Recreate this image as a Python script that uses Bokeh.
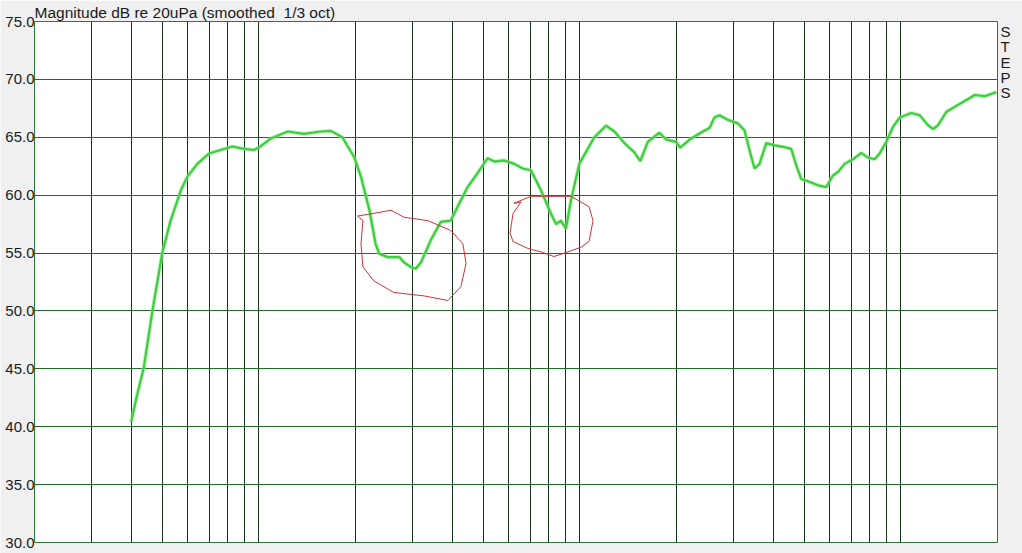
from bokeh.plotting import figure
from bokeh.models import (FixedTicker, PrintfTickFormatter, Range1d, LinearAxis,
                          CustomJSTickFormatter)
from bokeh.embed import file_html
from bokeh.resources import INLINE

# ---- data -------------------------------------------------------------
freq_hz = [40, 41.8, 43.8, 46.6, 50.0, 53.1, 57.1, 59.9, 64.3, 69.9, 76.0, 82.7,
           89.9, 96.6, 101, 109, 123, 138, 156, 167.5, 182, 198, 208, 221, 231,
           237, 252, 274, 283, 297, 308, 320, 343, 369, 396, 416, 447, 480, 516,
           541, 581, 625, 664, 704, 757, 813, 843, 873, 905, 938, 996, 1109,
           1206, 1281, 1376, 1478, 1544, 1628, 1769, 1857, 1994, 2052, 2222,
           2416, 2533, 2626, 2722, 2891, 3106, 3257, 3376, 3500, 3628, 3807,
           4040, 4341, 4555, 4720, 4893, 5133, 5517, 5855, 6146, 6368, 6678,
           7093, 7526, 7898, 8283, 8586, 9008, 9452, 9910, 10779, 11440, 12152,
           12600, 13058, 13860, 15076, 16193, 16980, 18250, 19844]
mag_db = [40.4, 42.8, 45.1, 50.0, 55.0, 57.8, 60.4, 61.6, 62.7, 63.6, 63.9, 64.2,
          64.0, 63.9, 64.2, 64.9, 65.5, 65.3, 65.5, 65.55, 65.0, 63.3, 61.6, 58.7,
          55.8, 54.95, 54.65, 54.65, 54.2, 53.8, 53.65, 54.2, 56.1, 57.7, 57.8,
          59.0, 60.7, 61.9, 63.2, 62.9, 63.0, 62.7, 62.3, 62.15, 60.4, 58.4, 57.5,
          57.8, 57.1, 59.55, 62.7, 65.0, 66.0, 65.5, 64.5, 63.7, 62.95, 64.6,
          65.4, 64.8, 64.6, 64.1, 64.9, 65.5, 65.8, 66.7, 66.9, 66.5, 66.2, 65.6,
          63.9, 62.3, 62.7, 64.5, 64.3, 64.15, 64.0, 62.6, 61.4, 61.2, 60.85,
          60.7, 61.7, 62.0, 62.7, 63.1, 63.65, 63.25, 63.1, 63.6, 64.6, 65.9,
          66.7, 67.1, 66.9, 66.05, 65.7, 66.05, 67.2, 67.8, 68.3, 68.65, 68.55,
          68.9]

# hand-drawn red annotation loops
circle1_hz = [203, 220, 258, 283, 336, 396, 432, 442, 426, 388, 327, 263, 228, 211, 208, 211]
circle1_db = [58.2, 58.35, 58.7, 58.1, 57.8, 56.95, 55.8, 54.1, 52.1, 50.9, 51.3, 51.6, 52.6, 53.8, 55.8, 57.8]
circle2_hz = [623, 704, 938, 1068, 1099, 1068, 1008, 918, 830, 757, 689, 619, 606, 619, 655]
circle2_db = [59.3, 59.9, 59.9, 59.0, 57.8, 56.0, 55.5, 55.1, 54.7, 55.1, 55.4, 56.0, 56.7, 58.4, 59.4]

y_ticks = [30, 35, 40, 45, 50, 55, 60, 65, 70, 75]
x_grid_hz = [30, 40, 50, 60, 70, 80, 90, 100,
             200, 300, 400, 500, 600, 700, 800, 900, 1000,
             2000, 3000, 4000, 5000, 6000, 7000, 8000, 9000, 10000]
title_text = "Magnitude dB re 20uPa (smoothed\u00a0 1/3 oct)"
side_letters = ["S", "T", "E", "P", "S"]          # top to bottom
side_letter_db = [74.1, 72.8, 71.5, 70.2, 68.9]

FONT = "Liberation Sans"

p = figure(width=1022, height=553, x_axis_type="log",
           x_range=Range1d(20, 20000), y_range=Range1d(30, 75),
           output_backend="svg", toolbar_location=None,
           min_border_left=34, min_border_right=25, min_border_bottom=11,
           min_border_top=0)

p.background_fill_color = "white"
p.border_fill_color = "#f0f0f0"
p.outline_line_color = "#2a7a3a"
p.outline_line_width = 1

p.title.text = title_text
p.title.text_font = FONT
p.title.text_font_size = "15.5px"
p.title.text_font_style = "normal"
p.title.text_color = "#1a1a1a"
p.title.align = "left"
p.title.offset = 0
p.title.standoff = 2

p.xaxis.visible = False
p.xgrid.ticker = FixedTicker(ticks=x_grid_hz)
p.xgrid.grid_line_color = "#17331c"
p.xgrid.grid_line_width = 1

p.yaxis.ticker = FixedTicker(ticks=y_ticks)
p.yaxis.formatter = PrintfTickFormatter(format="%.1f")
p.yaxis.major_label_text_font = FONT
p.yaxis.major_label_text_font_size = "15px"
p.yaxis.major_label_text_color = "#1a1a1a"
p.yaxis.major_tick_line_color = None
p.yaxis.minor_tick_line_color = None
p.yaxis.major_tick_in = 0
p.yaxis.major_tick_out = 0
p.yaxis.axis_line_color = None
p.yaxis.major_label_standoff = 0
p.ygrid.grid_line_color = "#1e6b2a"
p.ygrid.grid_line_width = 1

# right-hand "STEPS" legend letters as an axis of letters
right_axis = LinearAxis(
    ticker=FixedTicker(ticks=sorted(side_letter_db)),
    formatter=CustomJSTickFormatter(args=dict(letters=side_letters[::-1]),
                                    code="return letters[index];"),
    axis_line_color=None, major_tick_line_color=None, minor_tick_line_color=None,
    major_tick_in=0, major_tick_out=0,
    major_label_text_font=FONT, major_label_text_font_size="15px",
    major_label_text_color="#1a1a1a", major_label_standoff=3)
p.add_layout(right_axis, "right")

p.line(freq_hz, mag_db, line_color="#9be89b", line_width=4, line_alpha=0.6)
p.line(freq_hz, mag_db, line_color="#3ccf3c", line_width=2.2)

p.line(circle1_hz + circle1_hz[:1], circle1_db + circle1_db[:1], line_color="#c8343c", line_width=1)
p.line(circle2_hz + circle2_hz[:1], circle2_db + circle2_db[:1], line_color="#c8343c", line_width=1)

open("out.html", "w").write(file_html(p, INLINE))
